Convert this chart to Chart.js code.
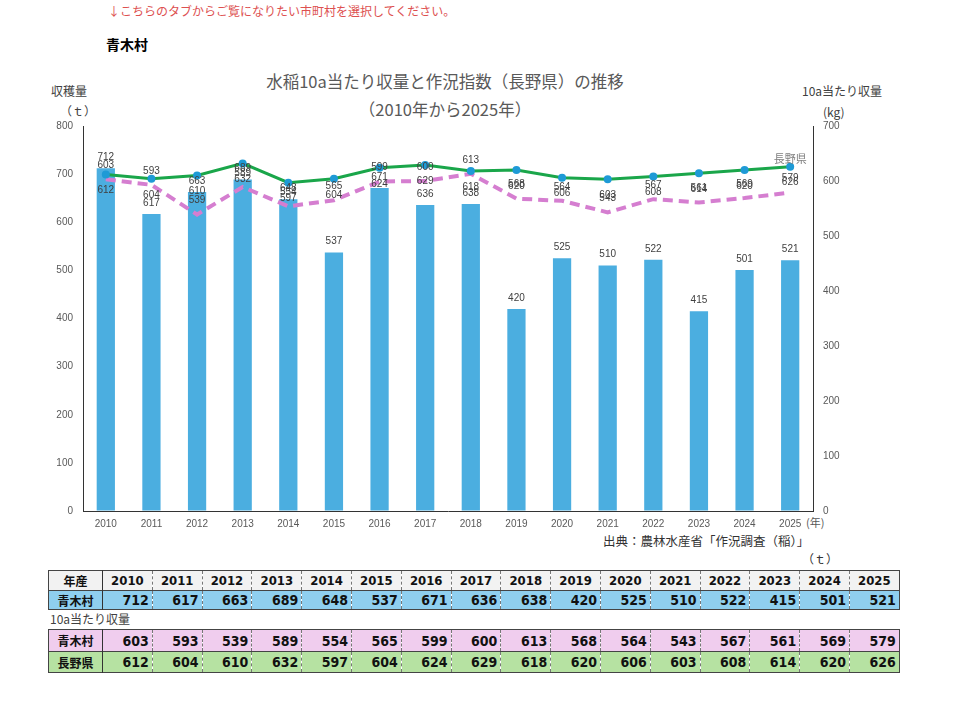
<!DOCTYPE html>
<html><head><meta charset="utf-8">
<script src="https://cdn.jsdelivr.net/npm/chart.js@4"></script>
<style>
body{margin:0;width:960px;height:701px;position:relative;background:#fff;font-family:"Noto Sans CJK JP",sans-serif;overflow:hidden}
.t{position:absolute;white-space:nowrap;line-height:1}
#wrap{position:absolute;left:0;top:0;width:960px;height:560px}
table{position:absolute;border-collapse:collapse;table-layout:fixed;left:48px;width:851px;border:1px solid #444}
td{padding:0 3px 0 0;text-align:right;font-family:"Liberation Sans Narrow","DejaVu Sans Condensed",sans-serif;font-weight:bold;font-size:14px;color:#111;border-left:1px dashed #777;overflow:hidden;white-space:nowrap}
td.lab{text-align:center;padding:0;font-family:"Noto Sans CJK JP",sans-serif;font-size:12px;border-left:none;border-right:1px solid #333}
tr.hd td{text-align:center;padding:0;font-size:13px;background:#F2F2F2}
tr.hd td.lab{font-size:12px}
tr.r1 td{background:#8FCFEF}
tr.r2 td{background:#F0CDEE}
tr.r3 td{background:#B6E2A2}
tr + tr td{border-top:1px solid #444}
</style>
</head><body>
<div class="t" style="left:108px;top:5px;font-size:12px;color:#DD5050">↓こちらのタブからご覧になりたい市町村を選択してください。</div>
<div class="t" style="left:106px;top:37px;font-size:14px;font-weight:bold;color:#000">青木村</div>
<div class="t" style="left:445px;top:73px;font-size:16.5px;color:#595959;transform:translateX(-50%)">水稲10a当たり収量と作況指数（長野県）の推移</div>
<div class="t" style="left:445px;top:101px;font-size:16.5px;color:#595959;transform:translateX(-50%)">（2010年から2025年）</div>
<div class="t" style="left:51px;top:85px;font-size:12px;color:#404040">収穫量</div>
<div class="t" style="left:60px;top:105px;font-size:12px;color:#404040">（ｔ）</div>
<div class="t" style="left:802px;top:85px;font-size:12px;color:#404040">10a当たり収量</div>
<div class="t" style="left:823px;top:106px;font-size:12px;color:#404040">(kg)</div>
<div class="t" style="left:806px;top:517px;font-size:11px;color:#595959">(年)</div>
<div class="t" style="left:603px;top:535px;font-size:12.5px;color:#333">出典：農林水産省「作況調査（稲）」</div>
<div class="t" style="left:802px;top:553px;font-size:12px;color:#333">（ｔ）</div>
<div class="t" style="left:50px;top:613px;font-size:12px;color:#404040">10a当たり収量</div>
<div id="wrap"><canvas id="c" width="960" height="560"></canvas></div>
<table id="tb1" style="top:570px"></table>
<table id="tb2" style="top:629px"></table>
<script>
const years = ['2010','2011','2012','2013','2014','2015','2016','2017','2018','2019','2020','2021','2022','2023','2024','2025'];
const harvestAoki = [712,617,663,689,648,537,671,636,638,420,525,510,522,415,501,521];
const yieldAoki = [603,593,539,589,554,565,599,600,613,568,564,543,567,561,569,579];
const yieldNagano = [612,604,610,632,597,604,624,629,618,620,606,603,608,614,620,626];
const leftTicks = [0,100,200,300,400,500,600,700,800];
const rightTicks = [0,100,200,300,400,500,600,700];

function buildTable(id, rows, hdr){
  const tb = document.getElementById(id);
  let html = '<colgroup><col style="width:54px">' + years.map(()=>'<col style="width:49.8px">').join('') + '</colgroup>';
  if (hdr) html += '<tr class="hd" style="height:20px"><td class="lab">年産</td>' + years.map(y=>'<td>'+y+'</td>').join('') + '</tr>';
  rows.forEach(r=>{
    html += '<tr class="'+r.cls+'" style="height:'+r.h+'px"><td class="lab">'+r.name+'</td>' + r.vals.map(v=>'<td>'+v+'</td>').join('') + '</tr>';
  });
  tb.innerHTML = html;
}
buildTable('tb1', [{cls:'r1',name:'青木村',vals:harvestAoki,h:19}], true);
buildTable('tb2', [{cls:'r2',name:'青木村',vals:yieldAoki,h:22},{cls:'r3',name:'長野県',vals:yieldNagano,h:21}], false);

const labelPlugin = {
  id:'vlabels',
  afterDatasetsDraw(chart){
    const ctx = chart.ctx;
    ctx.save();
    ctx.font = '10px "Liberation Sans", Arial, sans-serif';
    ctx.fillStyle = '#404040';
    ctx.textAlign = 'center';
    ctx.textBaseline = 'middle';
    const offs = [-11, -14, 16];
    chart.data.datasets.forEach((ds,i)=>{
      const meta = chart.getDatasetMeta(i);
      meta.data.forEach((el,j)=>{
        ctx.fillText(String(ds.data[j]), el.x, el.y + offs[i]);
      });
    });
    const gm = chart.getDatasetMeta(2);
    const last = gm.data[gm.data.length-1];
    ctx.fillStyle = '#7F7F7F';
    ctx.font = '11px "Noto Sans CJK JP", sans-serif';
    ctx.fillText('長野県', last.x, last.y - 8);
    ctx.restore();
  }
};

const tickFont = {family:'"Liberation Sans", Arial, sans-serif', size:10};
new Chart(document.getElementById('c'), {
  type:'bar',
  data:{
    labels: years,
    datasets:[
      {type:'bar', label:'収穫量', data:harvestAoki, yAxisID:'y', backgroundColor:'#4BAEE0', categoryPercentage:1, barPercentage:0.4, order:3},
      {type:'line', label:'青木村', data:yieldAoki, yAxisID:'y2', borderColor:'#D57ED0', borderWidth:4, borderDash:[10,6], pointRadius:0, tension:0, fill:false, order:2},
      {type:'line', label:'長野県', data:yieldNagano, yAxisID:'y2', borderColor:'#1AA64A', borderWidth:3, pointRadius:4, pointBackgroundColor:'#1E9AD6', pointBorderColor:'#1E9AD6', pointBorderWidth:0, tension:0, fill:false, order:1}
    ]
  },
  options:{
    responsive:false,
    animation:false,
    layout:{padding:{top:126,left:0,right:0,bottom:0}},
    plugins:{legend:{display:false}, tooltip:{enabled:false}, title:{display:false}},
    scales:{
      x:{
        grid:{display:false, drawTicks:false},
        border:{display:true, color:'#333', width:1},
        ticks:{font:tickFont, color:'#595959', padding:7, maxRotation:0, autoSkip:false},
        afterFit(s){ s.height = 49; }
      },
      y:{
        position:'left', min:0, max:800,
        afterBuildTicks(s){ s.ticks = leftTicks.map(v=>({value:v})); },
        grid:{color:'rgba(0,0,0,0)', drawTicks:false},
        border:{display:true, color:'#333', width:1},
        ticks:{font:tickFont, color:'#595959', padding:10},
        afterFit(s){ s.width = 83; }
      },
      y2:{
        position:'right', min:0, max:700,
        afterBuildTicks(s){ s.ticks = rightTicks.map(v=>({value:v})); },
        grid:{color:'rgba(0,0,0,0)', drawTicks:false, drawOnChartArea:false},
        border:{display:true, color:'#333', width:1},
        ticks:{font:tickFont, color:'#595959', padding:10},
        afterFit(s){ s.width = 147; }
      }
    }
  },
  plugins:[labelPlugin]
});
</script>
</body></html>
